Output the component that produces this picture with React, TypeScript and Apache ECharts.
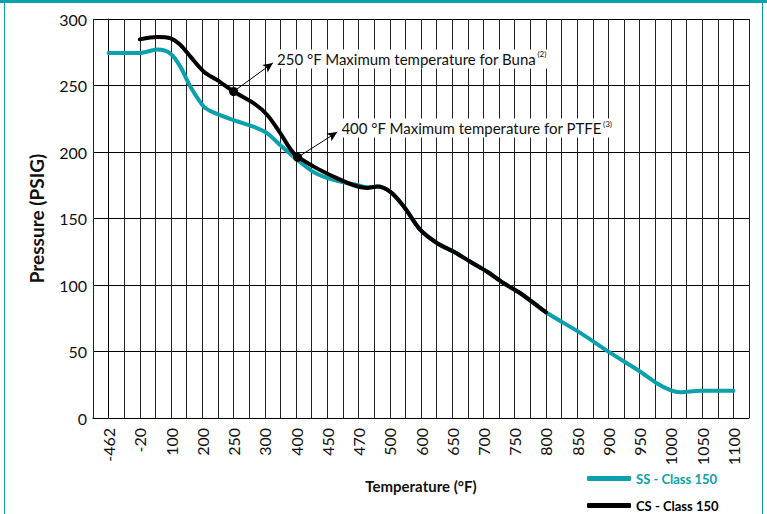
import { useEffect, useRef } from "react";
import * as echarts from "echarts";

const temperatureLabels = ["-462", "-20", "100", "200", "250", "300", "400", "450", "470", "500", "600", "650", "700", "750", "800", "850", "900", "950", "1000", "1050", "1100"];

// positions are measured in category slots (0 = "-462", 1 = "-20", ...)
const ssPos = [0, 1.0, 1.56, 1.98, 2.3, 2.62, 3.05, 3.37, 4.0, 4.64, 5.08, 5.5, 5.92, 6.56, 7.2, 7.97, 8.28, 8.6, 9.02, 9.45, 9.98, 10.52, 11.05, 11.58, 12.12, 12.65, 13.18, 14.0, 15.1, 16.06, 17.02, 17.56, 17.98, 18.3, 18.94, 20.0];
const ssPsi = [274.5, 274.5, 277, 274, 264, 249, 234, 229.6, 224, 219, 214, 205, 196.5, 185, 179, 175, 173.5, 174, 170, 159, 141.4, 131.4, 125, 117.5, 110, 101.3, 93.8, 79.5, 64, 49, 34.8, 26, 21, 19.3, 20.5, 20.5];

const csPos = [1.0, 1.56, 1.98, 2.3, 2.62, 3.05, 3.48, 4.01, 4.65, 5.08, 5.5, 5.93, 6.57, 7.21, 7.85, 8.28, 8.6, 9.02, 9.45, 9.98, 10.52, 11.05, 11.58, 12.12, 12.65, 13.18, 14.0];
const csPsi = [284.7, 286.5, 285.5, 280.5, 271.7, 260.4, 254, 245.3, 236.6, 227.8, 214, 199, 189, 181.4, 175, 173, 174, 170, 159, 141.4, 131.4, 125, 117.5, 110, 101.3, 93.8, 79.5];

const markerPos = [4.0, 6.05];
const markerPsi = [245.5, 196];
const noteTexts = ["250 °F Maximum temperature for Buna", "400 °F Maximum temperature for PTFE"];
const noteRefs = ["(2)", "(3)"];
const notePos = [5.36, 7.42];
const notePsi = [270, 218];

const TEAL = "#0aa0ac";
const FONT = "Lato, 'Open Sans', sans-serif";

export default function App() {
  const ref = useRef<HTMLDivElement>(null);
  useEffect(() => {
    const chart = echarts.init(ref.current!, null, { renderer: "svg" });
    chart.setOption({
      animation: false,
      backgroundColor: "#fff",
      textStyle: { fontFamily: FONT },
      grid: { left: 93, right: 18, top: 19, bottom: 96, containLabel: false },
      xAxis: {
        type: "value",
        min: -0.5,
        max: 20.5,
        interval: 0.5,
        name: "Temperature (°F)",
        nameLocation: "middle",
        nameGap: 60,
        nameTextStyle: { fontFamily: FONT, fontSize: 15, fontWeight: "bold", color: "#111" },
        axisLine: { show: true, lineStyle: { color: "#000", width: 1 } },
        axisTick: { show: false },
        splitLine: { show: true, lineStyle: { color: "#222", width: 1 } },
        axisLabel: {
          rotate: 90,
          margin: 10,
          fontFamily: FONT,
          fontSize: 16,
          color: "#111",
          showMinLabel: true,
          showMaxLabel: true,
          formatter: (v: number) => (Number.isInteger(v) && v >= 0 ? temperatureLabels[v] : ""),
        },
      },
      yAxis: {
        type: "value",
        min: 0,
        max: 300,
        interval: 50,
        name: "Pressure (PSIG)",
        nameLocation: "middle",
        nameGap: 47,
        nameTextStyle: { fontFamily: FONT, fontSize: 19, fontWeight: "bold", color: "#111" },
        axisLine: { show: true, lineStyle: { color: "#000", width: 1 } },
        axisTick: { show: true, length: 6, lineStyle: { color: "#000" } },
        splitLine: { show: true, lineStyle: { color: "#000", width: 1 } },
        axisLabel: { fontFamily: FONT, fontSize: 16, color: "#111", margin: 6 },
      },
      legend: {
        orient: "vertical",
        left: 587,
        top: 470,
        height: 44,
        padding: 0,
        itemWidth: 44,
        itemHeight: 5,
        itemGap: 10,
        icon: "roundRect",
        textStyle: { fontFamily: FONT, fontSize: 13, fontWeight: "bold", lineHeight: 17 },
        data: [
          { name: "SS - Class 150", textStyle: { color: TEAL } },
          { name: "CS - Class 150", textStyle: { color: "#000" } },
        ],
      },
      series: [
        {
          name: "SS - Class 150",
          type: "line",
          smooth: 0.3,
          showSymbol: false,
          z: 2,
          color: TEAL,
          lineStyle: { width: 4, color: TEAL, cap: "round", join: "round" },
          data: ssPos.map((p, i) => [p, ssPsi[i]]),
        },
        {
          name: "CS - Class 150",
          type: "line",
          smooth: 0.3,
          showSymbol: false,
          z: 3,
          color: "#000",
          lineStyle: { width: 4, color: "#000", cap: "round", join: "round" },
          data: csPos.map((p, i) => [p, csPsi[i]]),
          markLine: {
            silent: true,
            symbol: ["none", "arrow"],
            symbolSize: [7, 10],
            lineStyle: { color: "#000", width: 1, type: "solid" },
            label: { show: false },
            data: markerPos.map((p, i) => [
              { coord: [p, markerPsi[i]] },
              { coord: [notePos[i] - 0.1, notePsi[i] - 3] },
            ]),
          },
          markPoint: {
            silent: true,
            data: [
              ...markerPos.map((p, i) => ({
                coord: [p, markerPsi[i]],
                symbol: "circle",
                symbolSize: 9,
                itemStyle: { color: "#000" },
                label: { show: false },
              })),
              ...notePos.map((p, i) => ({
                coord: [p, notePsi[i]],
                symbol: "circle",
                symbolSize: 0,
                label: {
                  show: true,
                  position: "right",
                  distance: 0,
                  backgroundColor: "#fff",
                  padding: [1, 3, 1, 1],
                  formatter: `{a|${noteTexts[i]}}{s|${noteRefs[i]}}`,
                  rich: {
                    a: { fontFamily: FONT, fontSize: 15, color: "#111" },
                    s: { fontFamily: FONT, fontSize: 8, color: "#111", padding: [0, 0, 9, 1] },
                  },
                },
              })),
            ],
          },
        },
      ],
    });
    return () => chart.dispose();
  }, []);
  return (
    <div style={{ position: "fixed", left: 0, top: 0, width: 767, height: 514, background: "#fff" }}>
      <div ref={ref} style={{ position: "absolute", left: 0, top: 0, width: 767, height: 514 }} />
      <div style={{ position: "absolute", left: 0, top: 0, width: 767, height: 3, background: TEAL }} />
      <div style={{ position: "absolute", left: 4, top: 0, width: 1, height: 514, background: TEAL }} />
      <div style={{ position: "absolute", left: 762, top: 0, width: 1, height: 514, background: TEAL }} />
    </div>
  );
}
